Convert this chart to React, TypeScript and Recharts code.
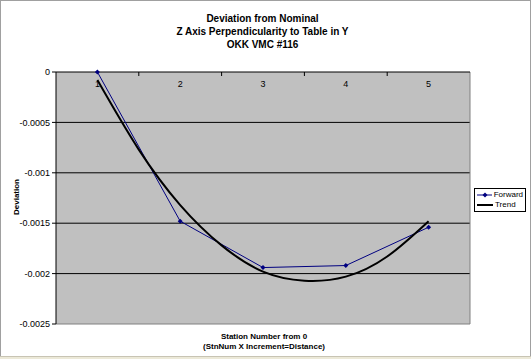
import React from "react";
import {
  ComposedChart,
  Line,
  XAxis,
  YAxis,
  CartesianGrid,
  ReferenceLine,
} from "recharts";

const FONT = '"Liberation Sans", Arial, sans-serif';

// stations 1..5 measured going forward
const stations = [1, 2, 3, 4, 5];
const forward = [0, -0.00148, -0.00194, -0.00192, -0.00154];

// Excel 2nd order trend line at half-station steps
const trendX = [1, 1.5, 2, 2.5, 3, 3.5, 4, 4.5, 5];
const trend = [-0.00008, -0.00077, -0.00132, -0.00172, -0.00198, -0.00207, -0.00203, -0.00183, -0.00148];

const yTicks = [0, -0.0005, -0.001, -0.0015, -0.002, -0.0025];
const xTicks = [1, 1.5, 2, 2.5, 3, 3.5, 4, 4.5, 5];

const forwardData = stations.map((s, i) => ({ x: s, v: forward[i] }));
const trendData = trendX.map((s, i) => ({ x: s, v: trend[i] }));

const XTick = (props: any) => {
  const { x, payload } = props;
  const val = payload.value;
  if (Number.isInteger(val)) {
    return (
      <text x={x} y={87} textAnchor="middle" fontSize={9} fontFamily={FONT} fill="#000">
        {val}
      </text>
    );
  }
  return <line x1={x} x2={x} y1={72} y2={76} stroke="#000" />;
};

const Diamond = (props: any) => {
  const { cx, cy } = props;
  if (cx == null || cy == null) return null;
  return <path d={`M${cx},${cy - 2.5}L${cx + 2.5},${cy}L${cx},${cy + 2.5}L${cx - 2.5},${cy}Z`} fill="#000080" />;
};

const LegendBox = () => (
  <div
    style={{
      position: "absolute",
      left: 473,
      top: 187,
      boxSizing: "border-box",
      width: 52,
      border: "1px solid #000",
      background: "#fff",
      fontFamily: FONT,
      fontSize: 8,
      padding: "1px 2px",
      lineHeight: "10px",
    }}
  >
    <div style={{ display: "flex", alignItems: "center" }}>
      <svg width={16} height={8}>
        <line x1={0} x2={16} y1={4} y2={4} stroke="#000080" />
        <path d="M8,1.5L10.5,4L8,6.5L5.5,4Z" fill="#000080" />
      </svg>
      <span style={{ marginLeft: 2 }}>Forward</span>
    </div>
    <div style={{ display: "flex", alignItems: "center" }}>
      <svg width={16} height={8}>
        <line x1={0} x2={16} y1={4} y2={4} stroke="#000" strokeWidth={2} />
      </svg>
      <span style={{ marginLeft: 2 }}>Trend</span>
    </div>
  </div>
);

export default function App() {
  return (
    <div
      style={{
        position: "absolute",
        left: 0,
        top: 0,
        width: 531,
        height: 359,
        background: "#fff",
        boxSizing: "border-box",
        border: "1px solid #a0a0a0",
        fontFamily: FONT,
      }}
    >
      <div
        style={{
          position: "absolute",
          left: 0,
          width: 523,
          top: 11,
          textAlign: "center",
          fontWeight: "bold",
          fontSize: 10,
          lineHeight: "13px",
        }}
      >
        Deviation from Nominal
        <br />
        Z Axis Perpendicularity to Table in Y
        <br />
        OKK VMC #116
      </div>
      <div
        style={{
          position: "absolute",
          left: 0,
          width: 526,
          top: 331,
          textAlign: "center",
          fontWeight: "bold",
          fontSize: 8,
          lineHeight: "10px",
        }}
      >
        Station Number from 0
        <br />
        (StnNum X Increment=Distance)
      </div>
      <div
        style={{
          position: "absolute",
          left: 15,
          top: 196,
          transform: "translate(-50%, -50%) rotate(-90deg)",
          fontWeight: "bold",
          fontSize: 8,
        }}
      >
        Deviation
      </div>
      <div style={{ position: "absolute", left: -1, top: -1 }}>
        <ComposedChart width={531} height={359} margin={{ top: 52, right: 61, bottom: 35, left: 6 }}>
          <CartesianGrid
            vertical={false}
            horizontalValues={[-0.0005, -0.001, -0.0015, -0.002]}
            stroke="#000"
            fill="#c0c0c0"
            fillOpacity={1}
          />
          <XAxis
            dataKey="x"
            type="number"
            orientation="top"
            height={20}
            domain={[0.5, 5.5]}
            ticks={xTicks}
            interval={0}
            tick={<XTick />}
            tickLine={false}
            axisLine={{ stroke: "#000" }}
            allowDuplicatedCategory={false}
          />
          <YAxis
            type="number"
            width={50}
            domain={[-0.0025, 0]}
            ticks={yTicks}
            interval={0}
            tickSize={4}
            tickLine={{ stroke: "#000" }}
            axisLine={{ stroke: "#000" }}
            tick={{ fontSize: 9, fill: "#000", fontFamily: FONT }}
          />
          <ReferenceLine x={5.5} stroke="#808080" />
          <ReferenceLine y={-0.0025} stroke="#808080" />
          <Line
            data={forwardData}
            dataKey="v"
            type="linear"
            stroke="#000080"
            strokeWidth={1}
            dot={<Diamond />}
            activeDot={false}
            isAnimationActive={false}
            name="Forward"
          />
          <Line
            data={trendData}
            dataKey="v"
            type="natural"
            stroke="#000"
            strokeWidth={2}
            dot={false}
            activeDot={false}
            isAnimationActive={false}
            name="Trend"
          />
        </ComposedChart>
      </div>
      <LegendBox />
      <div
        style={{
          position: "absolute",
          left: -1,
          top: 355,
          width: 531,
          height: 4,
          background: "#ece9d8",
          borderTop: "1px solid #c8c4b4",
          boxSizing: "border-box",
        }}
      />
    </div>
  );
}
